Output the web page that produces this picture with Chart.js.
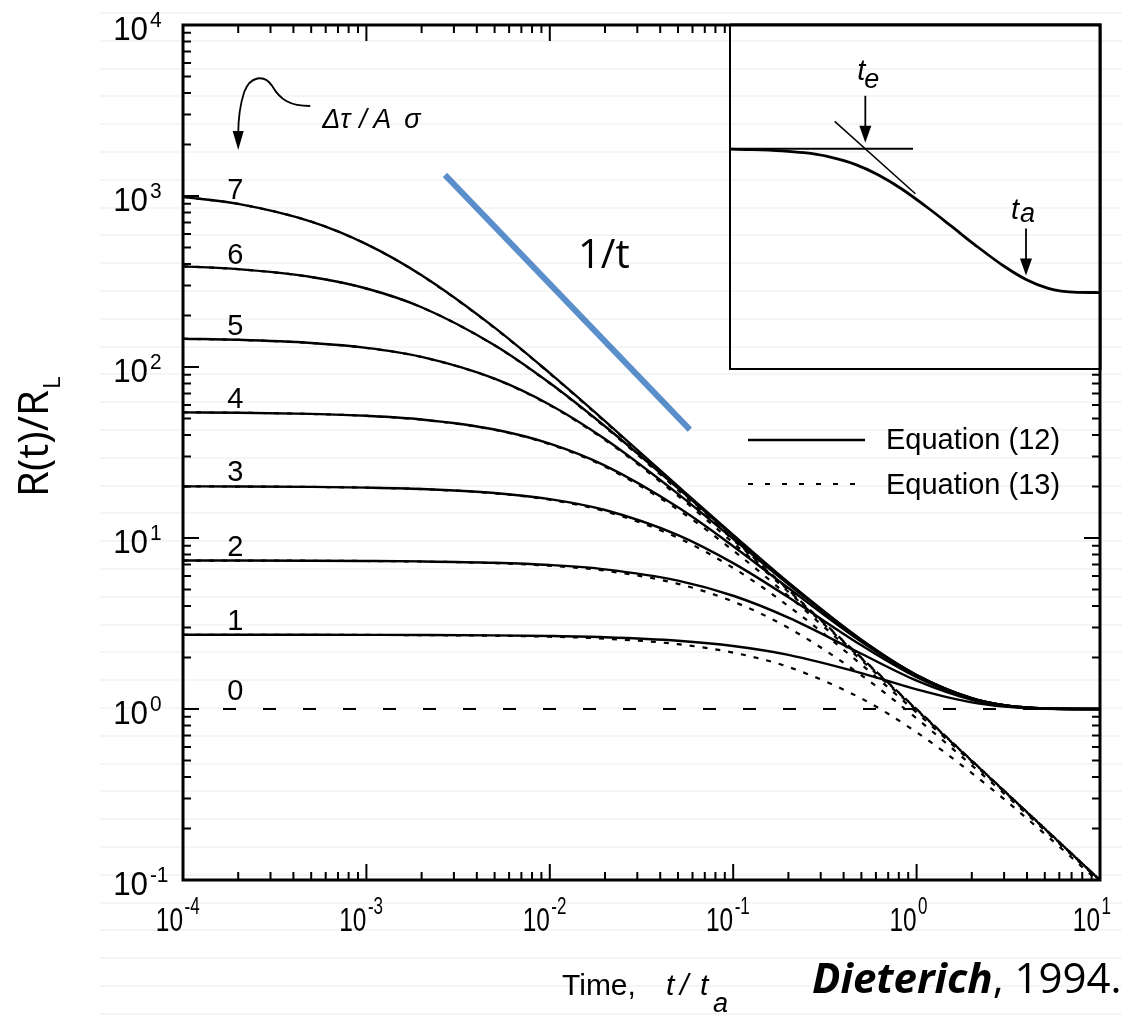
<!DOCTYPE html>
<html>
<head>
<meta charset="utf-8">
<script src="https://cdn.jsdelivr.net/npm/chart.js@4.4.1/dist/chart.umd.min.js"></script>
<style>
html, body { margin: 0; padding: 0; background: #fff; }
#wrap { position: relative; width: 1122px; height: 1016px; overflow: hidden; }
#main { position: absolute; left: 0; top: 0; }
#inset { position: absolute; left: 728px; top: 23px; }
#lines {
    position: absolute; left: 100px; top: 0; width: 1022px; height: 1016px;
    pointer-events: none; mix-blend-mode: multiply;
    background-image: repeating-linear-gradient(to bottom, #ebebeb 0, #ebebeb 1px, transparent 1px, transparent 27.8px);
    background-position: 0 12.5px;
}
</style>
</head>
<body>
<div id="wrap">
    <canvas id="main" width="1122" height="1016"></canvas>
    <canvas id="inset" width="374" height="348"></canvas>
    <div id="lines"></div>
</div>
<script>
// time t/ta, shared by every curve
const times = [1e-4, 2e-4, 5e-4, 1e-3, 2e-3, 5e-3, 1e-2, 2e-2, 5e-2, 0.1, 0.2, 0.5, 1, 2, 3, 5, 10];

// stress step labels (delta tau / A sigma)
const stressSteps = [1, 2, 3, 4, 5, 6, 7];

// Equation (12), solid curves, R(t)/RL
const eq12_s1 = [2.718, 2.717, 2.716, 2.714, 2.709, 2.695, 2.673, 2.629, 2.508, 2.336, 2.073, 1.622, 1.303, 1.094, 1.033, 1.004, 1.0];
const eq12_s2 = [7.384, 7.380, 7.366, 7.342, 7.296, 7.161, 6.947, 6.559, 5.634, 4.595, 3.424, 2.103, 1.466, 1.133, 1.045, 1.006, 1.0];
const eq12_s3 = [20.05, 20.01, 19.90, 19.71, 19.35, 18.34, 16.88, 14.58, 10.40, 7.13, 4.504, 2.360, 1.537, 1.148, 1.050, 1.006, 1.0];
const eq12_s4 = [54.31, 54.02, 53.17, 51.82, 49.32, 43.08, 35.61, 26.49, 15.11, 8.95, 5.095, 2.472, 1.565, 1.153, 1.051, 1.007, 1.0];
const eq12_s5 = [146.3, 144.2, 138.2, 129.4, 114.6, 85.5, 60.2, 37.9, 18.12, 9.876, 5.354, 2.515, 1.576, 1.155, 1.052, 1.007, 1.0];
const eq12_s6 = [387.8, 373.4, 335.8, 287.7, 223.6, 134.1, 80.6, 45.0, 19.56, 10.27, 5.456, 2.532, 1.580, 1.156, 1.052, 1.007, 1.0];
const eq12_s7 = [988, 899, 708, 523, 344, 170, 92.1, 48.3, 20.1, 10.42, 5.49, 2.54, 1.581, 1.156, 1.052, 1.007, 1.0];

// Equation (13), dotted curves
const eq13_s1 = [2.718, 2.717, 2.714, 2.711, 2.704, 2.682, 2.646, 2.578, 2.393, 2.137, 1.761, 1.152, 0.731, 0.422, 0.297, 0.186, 0.0965];
const eq13_s2 = [7.384, 7.379, 7.362, 7.335, 7.281, 7.126, 6.881, 6.438, 5.396, 4.249, 2.982, 1.574, 0.881, 0.468, 0.320, 0.195, 0.0987];
const eq13_s3 = [20.05, 19.99, 19.89, 19.69, 19.31, 18.25, 16.73, 14.33, 10.02, 6.68, 4.00, 1.819, 0.953, 0.488, 0.328, 0.198, 0.0995];
const eq13_s4 = [54.30, 54.01, 53.15, 51.77, 49.22, 42.89, 35.32, 26.10, 14.64, 8.45, 4.58, 1.929, 0.982, 0.496, 0.331, 0.199, 0.0998];
const eq13_s5 = [146.3, 144.1, 138.2, 129.2, 114.4, 85.2, 59.7, 37.4, 17.62, 9.37, 4.84, 1.973, 0.993, 0.498, 0.333, 0.200, 0.0999];
const eq13_s6 = [387.8, 373.4, 335.7, 287.4, 223.3, 133.7, 80.1, 44.5, 19.06, 9.76, 4.94, 1.990, 0.998, 0.499, 0.333, 0.200, 0.100];
const eq13_s7 = [988, 899, 708, 523, 343, 169, 91.6, 47.8, 19.64, 9.91, 4.98, 1.996, 0.999, 0.500, 0.333, 0.200, 0.100];

const eq12Curves = [eq12_s1, eq12_s2, eq12_s3, eq12_s4, eq12_s5, eq12_s6, eq12_s7];
const eq13Curves = [eq13_s1, eq13_s2, eq13_s3, eq13_s4, eq13_s5, eq13_s6, eq13_s7];

// step 0: background rate
const baseT = [1e-4, 10];
const baseR = [1, 1];

// blue 1/t guide line
const guideT = [0.00268, 0.058];
const guideR = [1330, 43];

// axis decades
const xExponents = [-4, -3, -2, -1, 0, 1];
const yExponents = [-1, 0, 1, 2, 3, 4];

// inset sketch (step 5 curve with its tangents)
const insetPlateauT = [1e-4, 0.0297];
const insetPlateauR = [148.4, 148.4];
const insetTangentT = [0.0026, 0.032];
const insetTangentR = [385, 31];
const tE = 0.00674;
const tA = 1;

const pts = (ts, rs) => ts.map((t, i) => ({ x: t, y: rs[i] }));

const datasets = [];
eq12Curves.forEach((c, i) => datasets.push({
    label: 'eq12 ' + stressSteps[i], data: pts(times, c),
    borderColor: '#000', borderWidth: 2.4, pointRadius: 0, cubicInterpolationMode: 'monotone'
}));
eq13Curves.forEach((c, i) => datasets.push({
    label: 'eq13 ' + stressSteps[i], data: pts(times, c),
    borderColor: '#000', borderWidth: 2.2, borderDash: [5, 8], pointRadius: 0, cubicInterpolationMode: 'monotone'
}));
datasets.push({
    label: 'eq 0', data: pts(baseT, baseR),
    borderColor: '#000', borderWidth: 1.8, borderDash: [13, 27], pointRadius: 0
});
datasets.push({
    label: '1/t', data: pts(guideT, guideR),
    borderColor: '#5b8fcb', borderWidth: 6, borderCapStyle: 'butt', pointRadius: 0
});

const SANS = '"Liberation Sans", Arial, sans-serif';
const OPEN = '"Open Sans", sans-serif';

function arrowDown(ctx, x, y0, y1) {
    ctx.beginPath();
    ctx.moveTo(x, y0);
    ctx.lineTo(x, y1 - 14);
    ctx.stroke();
    ctx.beginPath();
    ctx.moveTo(x - 6, y1 - 17);
    ctx.lineTo(x + 6, y1 - 17);
    ctx.lineTo(x, y1);
    ctx.closePath();
    ctx.fill();
}

const decor = {
    id: 'decor',
    afterDatasetsDraw(chart) {
        const ctx = chart.ctx;
        const a = chart.chartArea;
        const xs = chart.scales.x, ys = chart.scales.y;
        ctx.save();
        ctx.strokeStyle = '#000';
        ctx.fillStyle = '#000';

        // inward ticks on all four sides
        ctx.lineWidth = 2;
        ctx.beginPath();
        xExponents.forEach(e => {
            for (let m = 1; m <= 9; m++) {
                if (e === 1 && m > 1) break;
                const px = xs.getPixelForValue(m * Math.pow(10, e));
                const len = m === 1 ? 16 : 8;
                ctx.moveTo(px, a.bottom); ctx.lineTo(px, a.bottom - len);
                ctx.moveTo(px, a.top); ctx.lineTo(px, a.top + len);
            }
        });
        yExponents.forEach(e => {
            for (let m = 1; m <= 9; m++) {
                if (e === 4 && m > 1) break;
                const py = ys.getPixelForValue(m * Math.pow(10, e));
                const len = m === 1 ? 16 : 8;
                ctx.moveTo(a.left, py); ctx.lineTo(a.left + len, py);
                ctx.moveTo(a.right, py); ctx.lineTo(a.right - len, py);
            }
        });
        ctx.stroke();

        // frame
        ctx.lineWidth = 3;
        ctx.strokeRect(a.left, a.top, a.right - a.left, a.bottom - a.top);

        // y tick labels
        ctx.textBaseline = 'alphabetic';
        yExponents.forEach(e => {
            const py = ys.getPixelForValue(Math.pow(10, e));
            ctx.save();
            ctx.translate(a.left - 35, py + 15);
            ctx.scale(0.95, 1);
            ctx.font = '33px ' + SANS;
            ctx.textAlign = 'right';
            ctx.fillText('10', 0, 0);
            ctx.font = '22px ' + SANS;
            ctx.textAlign = 'left';
            ctx.fillText(String(e), 2, -13);
            ctx.restore();
        });

        // x tick labels (narrow face)
        xExponents.forEach(e => {
            const px = xs.getPixelForValue(Math.pow(10, e));
            ctx.save();
            ctx.translate(px, a.bottom + 51);
            ctx.scale(0.74, 1);
            ctx.font = '33px ' + SANS;
            ctx.textAlign = 'right';
            ctx.fillText('10', 0, 0);
            ctx.font = '23px ' + SANS;
            ctx.textAlign = 'left';
            ctx.fillText(String(e), 2, -17);
            ctx.restore();
        });

        // curve numbers
        ctx.font = '29px ' + SANS;
        ctx.textAlign = 'center';
        stressSteps.forEach((s, i) => {
            const p = chart.getDatasetMeta(i).data[1];
            ctx.fillText(String(s), p.x - 3, p.y - 5);
        });
        const lx = xs.getPixelForValue(2e-4);
        ctx.fillText('0', lx - 3, ys.getPixelForValue(baseR[0]) - 9);

        // squiggle arrow pointing at the curve numbers
        const ax = lx, tipY = a.top + 125;
        ctx.lineWidth = 1.8;
        ctx.beginPath();
        ctx.moveTo(ax + 72, tipY - 44);
        ctx.bezierCurveTo(ax + 52, tipY - 44, ax + 42, tipY - 50, ax + 34, tipY - 64);
        ctx.bezierCurveTo(ax + 26, tipY - 76, ax + 12, tipY - 74, ax + 6, tipY - 58);
        ctx.bezierCurveTo(ax + 2, tipY - 46, ax, tipY - 32, ax, tipY - 15);
        ctx.stroke();
        ctx.beginPath();
        ctx.moveTo(ax - 5.5, tipY - 19);
        ctx.lineTo(ax + 5.5, tipY - 19);
        ctx.lineTo(ax, tipY);
        ctx.closePath();
        ctx.fill();

        ctx.font = 'italic 27px ' + SANS;
        ctx.textAlign = 'left';
        ctx.fillText('Δτ', ax + 84, tipY - 22);
        ctx.fillText('/', ax + 121, tipY - 22);
        ctx.fillText('A', ax + 135, tipY - 22);
        ctx.fillText('σ', ax + 166, tipY - 22);

        // legend
        ctx.lineWidth = 2.4;
        ctx.beginPath();
        ctx.moveTo(748, 440); ctx.lineTo(865, 440);
        ctx.stroke();
        ctx.lineWidth = 2;
        ctx.setLineDash([5, 12]);
        ctx.beginPath();
        ctx.moveTo(748, 484); ctx.lineTo(865, 484);
        ctx.stroke();
        ctx.setLineDash([]);
        ctx.font = '29px ' + SANS;
        ctx.fillText('Equation (12)', 886, 449);
        ctx.fillText('Equation (13)', 886, 494);

        // 1/t label
        ctx.font = '40px ' + OPEN;
        ctx.fillText('1/t', 578, 268);

        // y title
        ctx.save();
        ctx.translate(48, 497);
        ctx.rotate(-Math.PI / 2);
        ctx.font = '42px ' + OPEN;
        ctx.fillText('R(t)/R', 0, 0);
        const w = ctx.measureText('R(t)/R').width;
        ctx.font = '24px ' + OPEN;
        ctx.fillText('L', w + 1, 12);
        ctx.restore();

        // x title
        ctx.font = '30px ' + SANS;
        ctx.fillText('Time,', 562, 995);
        ctx.font = 'italic 30px ' + SANS;
        ctx.fillText('t', 666, 995);
        ctx.fillText('/', 680, 995);
        ctx.fillText('t', 700, 995);
        ctx.font = 'italic 27px ' + SANS;
        ctx.fillText('a', 713, 1012);

        // citation
        ctx.font = 'italic bold 42px ' + OPEN;
        ctx.fillText('Dieterich', 812, 993);
        const dw = ctx.measureText('Dieterich').width;
        ctx.font = '42px ' + OPEN;
        ctx.fillText(', 1994.', 812 + dw, 993);

        ctx.restore();
    }
};

new Chart(document.getElementById('main'), {
    type: 'line',
    data: { datasets },
    options: {
        responsive: false,
        animation: false,
        devicePixelRatio: 1,
        layout: { padding: { left: 183, right: 22, top: 25, bottom: 136 } },
        plugins: { legend: { display: false }, tooltip: { enabled: false } },
        scales: {
            x: { type: 'logarithmic', min: 1e-4, max: 10, display: false },
            y: { type: 'logarithmic', min: 0.1, max: 1e4, display: false }
        }
    },
    plugins: [decor]
});

// inset
const insetDecor = {
    id: 'insetDecor',
    beforeDatasetsDraw(chart) {
        const ctx = chart.ctx, a = chart.chartArea;
        ctx.save();
        ctx.fillStyle = '#fff';
        ctx.fillRect(a.left, a.top, a.right - a.left, a.bottom - a.top);
        ctx.restore();
    },
    afterDatasetsDraw(chart) {
        const ctx = chart.ctx, a = chart.chartArea;
        const xs = chart.scales.x, ys = chart.scales.y;
        ctx.save();
        ctx.strokeStyle = '#000';
        ctx.fillStyle = '#000';
        ctx.lineWidth = 2;
        ctx.beginPath();
        ctx.moveTo(a.left, a.top); ctx.lineTo(a.left, a.bottom); ctx.lineTo(a.right, a.bottom);
        ctx.stroke();
        ctx.lineWidth = 3;
        ctx.beginPath();
        ctx.moveTo(a.left, a.top); ctx.lineTo(a.right, a.top); ctx.lineTo(a.right, a.bottom + 1);
        ctx.stroke();

        ctx.lineWidth = 1.8;
        const ex = xs.getPixelForValue(tE);
        const eTip = ys.getPixelForValue(insetPlateauR[0]) - 6;
        arrowDown(ctx, ex, eTip - 47, eTip);
        const axp = xs.getPixelForValue(tA);
        const aTip = ys.getPixelForValue(eq12_s5[times.indexOf(tA)]) - 4;
        arrowDown(ctx, axp, aTip - 47, aTip);

        ctx.textAlign = 'left';
        ctx.textBaseline = 'alphabetic';
        ctx.font = 'italic 29px ' + SANS;
        ctx.fillText('t', ex - 8, eTip - 63);
        ctx.fillText('t', axp - 15, aTip - 56);
        ctx.font = 'italic 27px ' + SANS;
        ctx.fillText('e', ex - 1, eTip - 55);
        ctx.fillText('a', axp - 6, aTip - 53);
        ctx.restore();
    }
};

new Chart(document.getElementById('inset'), {
    type: 'line',
    data: {
        datasets: [
            { data: pts(times, eq12_s5), borderColor: '#000', borderWidth: 2.8, pointRadius: 0, cubicInterpolationMode: 'monotone' },
            { data: pts(insetPlateauT, insetPlateauR), borderColor: '#000', borderWidth: 2, pointRadius: 0 },
            { data: pts(insetTangentT, insetTangentR), borderColor: '#000', borderWidth: 1.5, pointRadius: 0 }
        ]
    },
    options: {
        responsive: false,
        animation: false,
        devicePixelRatio: 1,
        layout: { padding: { left: 2, right: 2, top: 2, bottom: 2 } },
        plugins: { legend: { display: false }, tooltip: { enabled: false } },
        scales: {
            x: { type: 'logarithmic', min: 1e-4, max: 10, display: false },
            y: { type: 'logarithmic', min: 0.07, max: 11000, display: false }
        }
    },
    plugins: [insetDecor]
});
</script>
</body>
</html>
